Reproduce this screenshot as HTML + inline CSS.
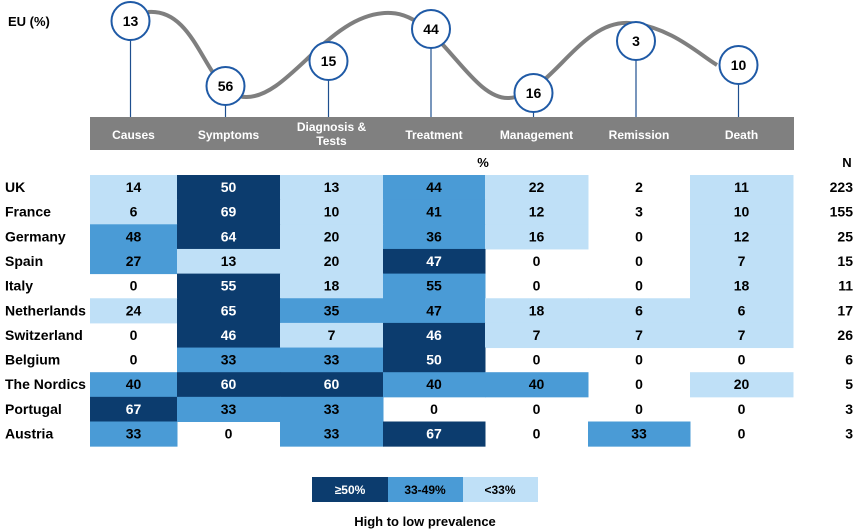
<!DOCTYPE html>
<html><head><meta charset="utf-8"><style>
body{margin:0;background:#fff;}
svg{display:block;font-family:"Liberation Sans",Arial,sans-serif;font-weight:bold;}
</style></head><body>
<svg id="chart" width="858" height="531" viewBox="0 0 858 531">
  <text x="8" y="26" font-size="13" fill="#000">EU (%)</text>
  <rect x="90" y="117" width="704" height="33" fill="#808080"/>
  <path d="M148,12 C200,8 205,97 246,97 C290,98 330,10 391,13 C440,15 470,100 509,98 C550,96 580,20 629,23 C670,26 700,55 717,65" fill="none" stroke="#7f7f7f" stroke-width="4"/>
  <g id="topg"></g>
  <text x="483" y="167" font-size="13" text-anchor="middle">%</text>
  <text x="847" y="167" font-size="13" text-anchor="middle">N</text>
  <g id="grid"></g>
  <g>
    <rect x="312" y="477" width="76" height="25" fill="#0c3c6e"/>
    <rect x="388" y="477" width="75" height="25" fill="#4a9bd6"/>
    <rect x="463" y="477" width="75" height="25" fill="#bfe0f7"/>
    <text x="350" y="494" font-size="12" fill="#fff" text-anchor="middle">≥50%</text>
    <text x="425" y="494" font-size="12" fill="#000" text-anchor="middle">33-49%</text>
    <text x="500" y="494" font-size="12" fill="#000" text-anchor="middle">&lt;33%</text>
    <text x="425" y="526" font-size="13" text-anchor="middle">High to low prevalence</text>
  </g>
</svg>
<script>
const categories = ["Causes","Symptoms","Diagnosis &|Tests","Treatment","Management","Remission","Death"];
const euValues = [13,56,15,44,16,3,10];
const countries = ["UK","France","Germany","Spain","Italy","Netherlands","Switzerland","Belgium","The Nordics","Portugal","Austria"];
const values = [
 [14,50,13,44,22,2,11],
 [6,69,10,41,12,3,10],
 [48,64,20,36,16,0,12],
 [27,13,20,47,0,0,7],
 [0,55,18,55,0,0,18],
 [24,65,35,47,18,6,6],
 [0,46,7,46,7,7,7],
 [0,33,33,50,0,0,0],
 [40,60,60,40,40,0,20],
 [67,33,33,0,0,0,0],
 [33,0,33,67,0,33,0]
];
const levels = [
 [1,3,1,2,1,0,1],
 [1,3,1,2,1,0,1],
 [2,3,1,2,1,0,1],
 [2,1,1,3,0,0,1],
 [0,3,1,2,0,0,1],
 [1,3,2,2,1,1,1],
 [0,3,1,3,1,1,1],
 [0,2,2,3,0,0,0],
 [2,3,3,2,2,0,1],
 [3,2,2,0,0,0,0],
 [2,0,2,3,0,2,0]
];
const nValues = [223,155,25,15,11,17,26,6,5,3,3];

const NS="http://www.w3.org/2000/svg";
const colEdges=[90,177,280,383,485,588,690,793];
const circleY=[21,86,61,29,93,41,65];
const rowTop=175, rowH=24.65;
const colors=["none","#bfe0f7","#4a9bd6","#0c3c6e"];
function colX(i){return colEdges[i];}
function colW(i){return colEdges[i+1]-colEdges[i];}
function colC(i){return (colEdges[i]+colEdges[i+1])/2;}
function rowY(r){return rowTop+r*rowH;}
function mk(tag,attrs,parent){const e=document.createElementNS(NS,tag);for(const k in attrs)e.setAttribute(k,attrs[k]);parent.appendChild(e);return e;}

const topG=document.getElementById('topg');
categories.forEach((c,i)=>{
  const cx=colC(i)-3, cy=circleY[i];
  const st=mk('line',{x1:cx,y1:cy+19,x2:cx,y2:117,stroke:'#1f4f8f','stroke-width':1.2},topG);
  
  
  const ci=mk('circle',{cx:cx,cy:cy,r:19,fill:'#fff',stroke:'#1f5aa6','stroke-width':2},topG);
  
  
  const t=mk('text',{x:cx,y:cy+5,'font-size':14,'text-anchor':'middle'},topG);
  t.textContent=euValues[i];
  
  
  const parts=c.split('|');
  const lt=mk('text',{x:colC(i),'font-size':12,fill:'#fff','text-anchor':'middle'},topG);
  
  
  parts.forEach((p,j)=>{
    const ts=mk('tspan',{x:colC(i),y:parts.length>1?(131+j*14):139},lt);
    ts.textContent=p;
  });
});

const grid=document.getElementById('grid');
countries.forEach((name,r)=>{
  const y=rowY(r);
  const lab=mk('text',{x:5,y:y+17,'font-size':14},grid);
  lab.textContent=name;
  
  
  values[r].forEach((v,i)=>{
    const lv=levels[r][i];
    if(lv>0){
      const rc=mk('rect',{x:colX(i),y:y,width:colW(i)+0.5,height:rowH+0.5,fill:colors[lv]},grid);
      
      
    }
    const t=mk('text',{x:colC(i),y:y+17,'font-size':14,'text-anchor':'middle',fill:lv===3?'#fff':'#000'},grid);
    t.textContent=v;
    
    
  });
  const n=mk('text',{x:853,y:y+17,'font-size':14,'text-anchor':'end'},grid);
  n.textContent=nValues[r];
  
  
});
</script>
</body></html>
